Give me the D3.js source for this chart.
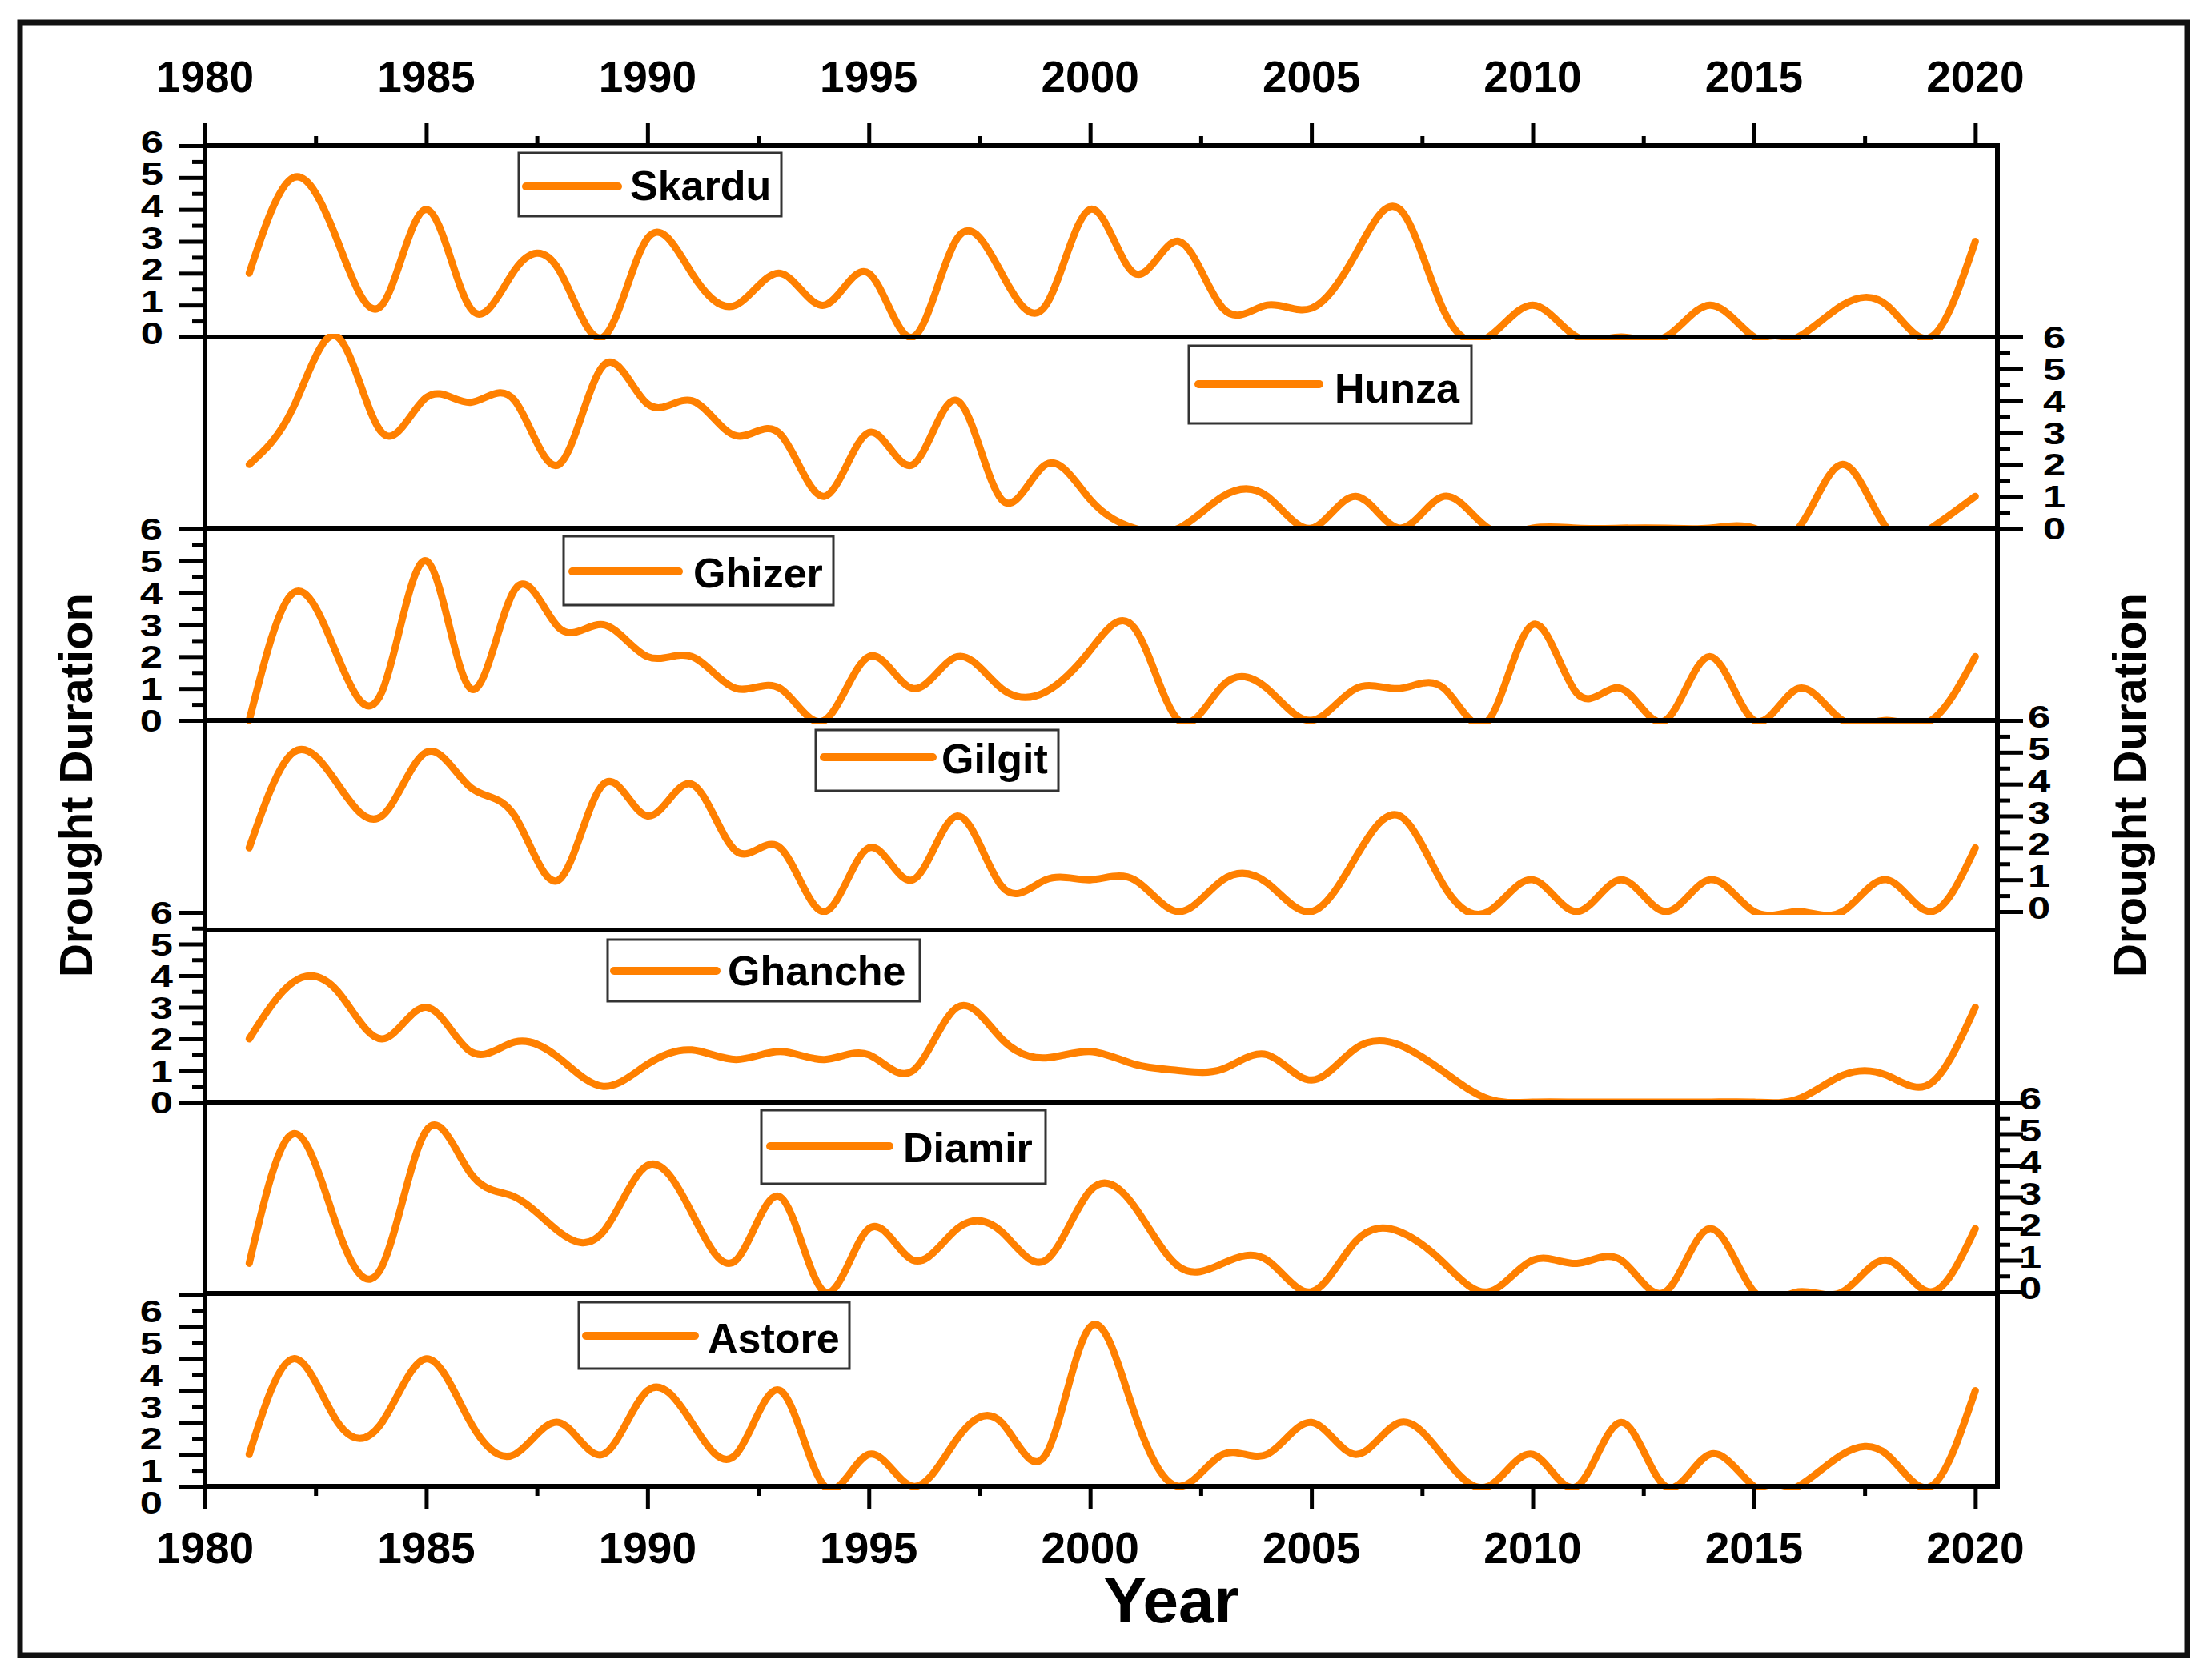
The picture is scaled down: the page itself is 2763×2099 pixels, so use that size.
<!DOCTYPE html>
<html>
<head>
<meta charset="utf-8">
<script src="https://cdn.jsdelivr.net/npm/d3@7/dist/d3.min.js"></script>
<style>
  body { margin: 0; background: #fff; }
  text { font-family: "Liberation Sans", Arial, sans-serif; font-weight: bold; fill: #000; }
</style>
</head>
<body>
<div id="drought_chart"></div>
<script>
// years 1981 - 2020, one value per year (drought duration)
var years = d3.range(1981, 2021);

var skardu  = [2.0, 5.0, 3.0, 1.0, 4.0, 0.9, 2.1, 2.1, 0.0, 3.1, 2.0, 1.0, 2.0, 1.0, 2.0, 0.0, 3.1, 2.0, 1.0, 4.0,
               2.0, 3.0, 0.9, 1.0, 0.9, 2.6, 4.0, 0.8, 0.0, 1.0, 0.0, 0.0, 0.0, 1.0, 0.0, 0.0, 1.0, 1.0, 0.0, 3.0];
var hunza   = [2.0, 3.8, 6.0, 3.0, 4.1, 3.95, 4.0, 2.0, 5.1, 3.9, 4.0, 2.9, 2.95, 1.0, 3.0, 2.0, 4.0, 0.9, 2.0, 0.9,
               0.0, 0.0, 1.0, 1.0, 0.0, 1.0, 0.0, 1.0, 0.0, 0.0, 0.0, 0.0, 0.0, 0.0, 0.0, 0.0, 2.0, 0.0, 0.0, 1.0];
var ghizer  = [0.0, 4.0, 2.0, 0.9, 5.0, 1.0, 4.1, 2.9, 3.0, 2.0, 2.0, 1.0, 1.0, 0.0, 2.0, 1.0, 2.0, 1.0, 0.9, 2.2,
               2.9, 0.0, 1.1, 1.0, 0.0, 1.0, 1.0, 1.0, 0.0, 3.0, 0.85, 1.0, 0.0, 2.0, 0.0, 1.0, 0.0, 0.0, 0.0, 2.0];
var gilgit  = [2.0, 5.0, 4.0, 3.0, 5.0, 3.9, 3.0, 1.0, 4.0, 3.0, 4.0, 1.9, 2.0, 0.0, 2.0, 1.0, 3.0, 0.8, 1.0, 1.0,
               1.0, 0.0, 1.0, 0.9, 0.0, 1.7, 3.0, 0.8, 0.0, 1.0, 0.0, 1.0, 0.0, 1.0, 0.0, 0.0, 0.0, 1.0, 0.0, 2.0];
var ghanche = [2.0, 3.8, 3.5, 2.0, 3.0, 1.6, 1.9, 1.4, 0.5, 1.2, 1.65, 1.35, 1.6, 1.35, 1.5, 1.0, 3.0, 2.0, 1.4, 1.6,
               1.2, 1.0, 1.05, 1.5, 0.7, 1.7, 1.8, 0.95, 0.1, 0.0, 0.0, 0.0, 0.0, 0.0, 0.0, 0.1, 0.85, 0.85, 0.6, 3.0];
var diamir  = [0.9, 5.0, 2.0, 0.8, 5.1, 3.75, 3.0, 1.9, 1.9, 4.0, 2.5, 1.0, 3.0, 0.0, 2.0, 1.0, 2.0, 1.9, 1.0, 3.2,
               2.7, 0.8, 0.9, 1.0, 0.0, 1.6, 1.9, 0.9, 0.0, 1.0, 0.9, 1.0, 0.0, 2.0, 0.0, 0.0, 0.0, 1.0, 0.0, 2.0];
var astore  = [1.0, 4.0, 2.0, 2.0, 4.0, 2.0, 1.0, 2.0, 1.0, 3.0, 2.0, 1.0, 3.0, 0.0, 1.0, 0.0, 1.5, 2.0, 1.0, 5.0,
               2.3, 0.0, 1.0, 1.0, 2.0, 1.0, 2.0, 0.9, 0.0, 1.0, 0.0, 2.0, 0.0, 1.0, 0.0, 0.0, 1.0, 1.0, 0.0, 3.0];

var stationNames = ["Skardu", "Hunza", "Ghizer", "Gilgit", "Ghanche", "Diamir", "Astore"];
var stationValues = [skardu, hunza, ghizer, gilgit, ghanche, diamir, astore];

var yearTicks = d3.range(1980, 2021, 5);
var yearMinorTicks = d3.range(1982.5, 2020, 5);
var durationTicks = [0, 1, 2, 3, 4, 5, 6];
var durationMinorTicks = [0.5, 1.5, 2.5, 3.5, 4.5, 5.5];

var width = 2763,
    height = 2099,
    orange = "#ff8000";

// panel layout (Origin-style stacked layers, axes alternate left / right)
var layout = [
  {top: 182,  bottom: 421,  frame: 182,  side: "left",  labelX: 204,  labelDy: -5, box: [648, 191, 976, 270],   line: [653, 772, 233],   txt: [787, 250]},
  {top: 421,  bottom: 660,  frame: 421,  side: "right", labelX: 2552, labelDy: 0,  box: [1485, 432, 1838, 529], line: [1493, 1648, 480], txt: [1667, 503]},
  {top: 661,  bottom: 900,  frame: 660,  side: "left",  labelX: 203,  labelDy: 0,  box: [704, 670, 1041, 756],  line: [711, 848, 714],   txt: [866, 734]},
  {top: 900,  bottom: 1139, frame: 900,  side: "right", labelX: 2533, labelDy: -5, box: [1019, 912, 1322, 988], line: [1025, 1165, 946], txt: [1176, 966]},
  {top: 1140, bottom: 1377, frame: 1162, side: "left",  labelX: 216,  labelDy: 0,  box: [759, 1174, 1149, 1251], line: [763, 895, 1213], txt: [909, 1231]},
  {top: 1377, bottom: 1614, frame: 1377, side: "right", labelX: 2522, labelDy: -5, box: [951, 1387, 1306, 1479], line: [958, 1111, 1432], txt: [1128, 1452]},
  {top: 1618, bottom: 1857, frame: 1616, side: "left",  labelX: 203,  labelDy: 20, box: [723, 1627, 1061, 1710], line: [728, 868, 1669],  txt: [884, 1690]}
];

var plotLeft = 256, plotRight = 2495, plotTop = 182, plotBottom = 1857;

var x = d3.scaleLinear()
  .domain([1980, 2020.5])
  .range([plotLeft, plotRight]);

var svg = d3.select("#drought_chart").append("svg")
  .attr("width", width)
  .attr("height", height);

svg.append("rect")
  .attr("width", width).attr("height", height)
  .attr("fill", "#fff");

// outer border
svg.append("rect")
  .attr("x", 25).attr("y", 28)
  .attr("width", 2707).attr("height", 2040)
  .attr("fill", "none")
  .attr("stroke", "#111")
  .attr("stroke-width", 7);

var defs = svg.append("defs");

var line = d3.line()
  .x(function(d) { return x(d.year); })
  .y(function(d) { return d.y; })
  .curve(d3.curveNatural);

function styleAxis(g) {
  g.select(".domain").remove();
  g.selectAll(".tick line").attr("stroke", "#000").attr("stroke-width", 5);
  g.selectAll(".tick text").remove();
}

// panels
layout.forEach(function(p, i) {
  var y = d3.scaleLinear().domain([0, 6]).range([p.bottom, p.top]);
  var g = svg.append("g").attr("class", "panel");

  // horizontal frame line at the top of each layer
  g.append("line")
    .attr("x1", plotLeft).attr("x2", plotRight)
    .attr("y1", p.frame).attr("y2", p.frame)
    .attr("stroke", "#000").attr("stroke-width", 6);

  // y ticks, outward
  var axisX = p.side === "left" ? plotLeft : plotRight;
  var mk = p.side === "left" ? d3.axisLeft : d3.axisRight;
  g.append("g")
    .attr("transform", "translate(" + axisX + ",0)")
    .call(mk(y).tickValues(durationTicks).tickSize(32).tickFormat(""))
    .call(styleAxis);
  g.append("g")
    .attr("transform", "translate(" + axisX + ",0)")
    .call(mk(y).tickValues(durationMinorTicks).tickSize(16).tickFormat(""))
    .call(styleAxis);

  // tick labels (Origin draws them squat and wide)
  g.selectAll(".ylab")
    .data(durationTicks)
    .enter().append("text")
    .attr("class", "ylab")
    .attr("transform", function(d) {
      return "translate(" + p.labelX + "," + (y(d) + p.labelDy) + ") scale(1.3,1)";
    })
    .attr("dy", "0.36em")
    .style("font-size", "39px")
    .style("text-anchor", p.side === "left" ? "end" : "start")
    .text(function(d) { return d; });

  // clip the series to its 0..6 band (a little slack for the stroke)
  var clipId = "clip" + i;
  defs.append("clipPath").attr("id", clipId)
    .append("rect")
    .attr("x", plotLeft).attr("y", p.top - 4)
    .attr("width", plotRight - plotLeft).attr("height", p.bottom - p.top + 8);

  var pts = years.map(function(yr, j) {
    return {year: yr, y: y(stationValues[i][j])};
  });

  svg.append("path")
    .datum(pts)
    .attr("clip-path", "url(#" + clipId + ")")
    .attr("d", line)
    .attr("fill", "none")
    .attr("stroke", orange)
    .attr("stroke-width", 9)
    .attr("stroke-linejoin", "round")
    .attr("stroke-linecap", "round");

  // legend
  var lg = svg.append("g").attr("class", "legend");
  lg.append("rect")
    .attr("x", p.box[0]).attr("y", p.box[1])
    .attr("width", p.box[2] - p.box[0]).attr("height", p.box[3] - p.box[1])
    .attr("fill", "#fff")
    .attr("stroke", "#333")
    .attr("stroke-width", 3);
  lg.append("line")
    .attr("x1", p.line[0] + 4).attr("x2", p.line[1])
    .attr("y1", p.line[2]).attr("y2", p.line[2])
    .attr("stroke", orange)
    .attr("stroke-width", 10)
    .attr("stroke-linecap", "round");
  lg.append("text")
    .attr("x", p.txt[0]).attr("y", p.txt[1])
    .style("font-size", "52px")
    .text(stationNames[i]);
});

// bottom frame line + side axes
svg.append("line")
  .attr("x1", plotLeft).attr("x2", plotRight)
  .attr("y1", plotBottom).attr("y2", plotBottom)
  .attr("stroke", "#000").attr("stroke-width", 6);
[plotLeft, plotRight].forEach(function(ax) {
  svg.append("line")
    .attr("x1", ax).attr("x2", ax)
    .attr("y1", plotTop - 3).attr("y2", plotBottom + 3)
    .attr("stroke", "#000").attr("stroke-width", 6);
});

// top and bottom year axes
svg.append("g")
  .attr("transform", "translate(0," + plotTop + ")")
  .call(d3.axisTop(x).tickValues(yearTicks).tickSize(28).tickFormat(""))
  .call(styleAxis);
svg.append("g")
  .attr("transform", "translate(0," + plotTop + ")")
  .call(d3.axisTop(x).tickValues(yearMinorTicks).tickSize(12).tickFormat(""))
  .call(styleAxis);
svg.append("g")
  .attr("transform", "translate(0," + plotBottom + ")")
  .call(d3.axisBottom(x).tickValues(yearTicks).tickSize(28).tickFormat(""))
  .call(styleAxis);
svg.append("g")
  .attr("transform", "translate(0," + plotBottom + ")")
  .call(d3.axisBottom(x).tickValues(yearMinorTicks).tickSize(12).tickFormat(""))
  .call(styleAxis);

[115, 1953].forEach(function(base) {
  svg.selectAll(null)
    .data(yearTicks)
    .enter().append("text")
    .attr("x", function(d) { return x(d); })
    .attr("y", base)
    .style("font-size", "55px")
    .style("text-anchor", "middle")
    .text(function(d) { return d; });
});

// axis titles
svg.append("text")
  .attr("x", 1463).attr("y", 2027)
  .style("font-size", "80px")
  .style("text-anchor", "middle")
  .text("Year");

[115, 2680].forEach(function(bx) {
  svg.append("text")
    .attr("transform", "translate(" + bx + ",981) rotate(-90)")
    .style("font-size", "58px")
    .style("text-anchor", "middle")
    .text("Drought Duration");
});
</script>
</body>
</html>
